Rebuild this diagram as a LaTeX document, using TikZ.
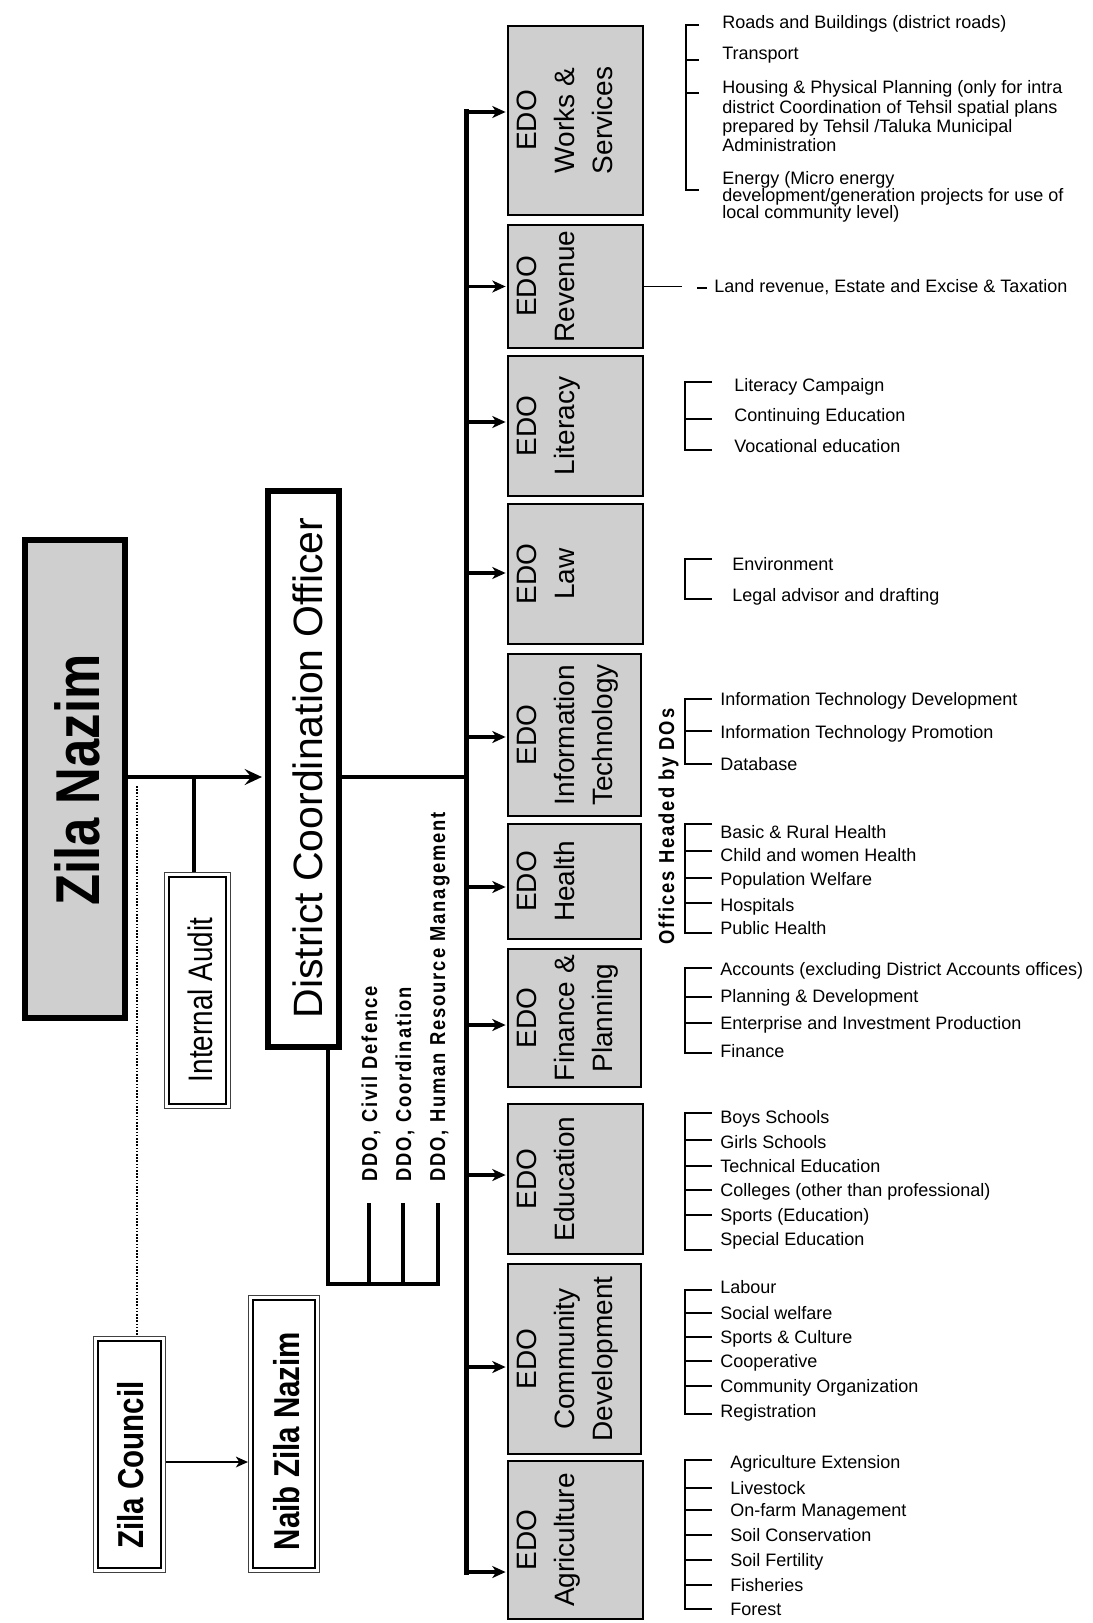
\documentclass[tikz,border=0pt]{standalone}
\usepackage{fontspec}
\setmainfont{Liberation Sans}
\newfontfamily\nfont{Liberation Sans}[FakeStretch=0.82]
\newfontfamily\ddofont{Liberation Sans}[FakeStretch=0.85,LetterSpace=9]
\usetikzlibrary{arrows.meta,fit}
\definecolor{boxgray}{RGB}{207,207,207}
\newcommand\tightls{\lineskiplimit=-20pt\relax}
\begin{document}
\begin{tikzpicture}[x=0.75pt,y=-0.75pt]
\tikzset{
  thickbox/.style={draw, line width=4.5pt, inner sep=0pt},
  edobox/.style={draw, line width=2pt, fill=boxgray, inner sep=0pt},
  dblbox/.style={draw=black!75, line width=0.8pt, inner sep=0pt},
  innerline/.style={line width=1.9pt},
  edotext/.style={rotate=90, anchor=north, align=center, inner sep=0pt, font=\fontsize{21pt}{28.5pt}\selectfont},
  item/.style={anchor=base west, inner sep=0pt, font=\fontsize{13.5pt}{16pt}\selectfont},
  itemblock/.style={anchor=north west, inner sep=0pt, align=left},
  ddotext/.style={rotate=90, anchor=base west, inner sep=0pt, font=\ddofont\bfseries\fontsize{16.2pt}{18pt}\selectfont},
  brk/.style={line width=2.1pt, line join=miter},
  bus/.style={line width=3.75pt, line cap=rect},
  branch/.style={line width=2.6pt, -{Stealth[length=10pt,width=9pt,inset=3pt]}, shorten >=0.8pt},
  mainarrow/.style={line width=3pt, -{Stealth[length=13pt,width=12pt,inset=5pt]}, shorten >=2.3pt},
  mainline/.style={line width=3pt},
  ialine/.style={line width=2.3pt},
  dots/.style={line width=1.8pt, dash pattern=on 1.2pt off 1.2pt},
  smallarrow/.style={line width=1.5pt, -{Stealth[length=9pt,width=8pt,inset=2.5pt]}},
  ddoline/.style={line width=3pt, line join=miter},
}
\fill[white] (0,0) rectangle (1092,1623);
\useasboundingbox (0,0) rectangle (1092,1623);

% ---------- left part ----------
\node[thickbox, fill=boxgray, fit={(25,540)(125,1018)}] (zn) {};
\node[rotate=90, inner sep=0pt, font=\nfont\bfseries\fontsize{46.5pt}{50pt}\selectfont] (znt) at (77,780) {Zila Nazim};

\node[thickbox, fill=white, fit={(268,491)(339,1047)}] (dco) {};
\node[rotate=90, inner sep=0pt, font=\fontsize{30.75pt}{34pt}\selectfont] (dcot) at (308,768) {District Coordination Officer};

\node[dblbox, fit={(164.5,872.5)(230.5,1108.5)}] (ia) {};
\draw[innerline] ([shift={(5,5)}]ia.north west) rectangle ([shift={(-5,-5)}]ia.south east);
\node[rotate=90, inner sep=0pt, font=\nfont\fontsize{25.5pt}{28pt}\selectfont] (iat) at (200,1000) {Internal Audit};

\node[dblbox, fit={(93.5,1336.5)(165.5,1572.5)}] (zc) {};
\draw[innerline] ([shift={(5,5)}]zc.north west) rectangle ([shift={(-5,-5)}]zc.south east);
\node[rotate=90, inner sep=0pt, font=\nfont\bfseries\fontsize{27pt}{30pt}\selectfont] (zct) at (131,1465) {Zila Council};

\node[dblbox, fit={(248.5,1295.5)(319.5,1572.5)}] (nzn) {};
\draw[innerline] ([shift={(5,5)}]nzn.north west) rectangle ([shift={(-5,-5)}]nzn.south east);
\node[rotate=90, inner sep=0pt, font=\nfont\bfseries\fontsize{27pt}{30pt}\selectfont] (nznt) at (287,1441) {Naib Zila Nazim};

\coordinate (j) at (194,777);
\coordinate (dt) at (137,786);
\coordinate (bj) at (466,777);
\draw[mainarrow] (zn.east |- j) -- (dco.west |- j);
\draw[ialine] (j) -- (j |- ia.north);
\draw[dots] (dt) -- (dt |- zc.north);
\draw[smallarrow] (zc.east |- 0,1462) -- (nzn.west |- 0,1462);
\draw[mainline] (dco.east |- j) -- (bj);

% DDO bracket
\draw[ddoline] (dco.south -| 328,0) |- (438,1284) -- (438,1203);
\draw[ddoline] (369,1203) -- (369,1284);
\draw[ddoline] (403,1203) -- (403,1284);
\node[ddotext] (d1) at (377,1182) {DDO, Civil Defence};
\node[ddotext] (d2) at (411,1182) {DDO, Coordination};
\node[ddotext] (d3) at (445,1182) {DDO, Human Resource Management};

% ---------- EDO boxes ----------
\node[edobox, fit={(508,26)(643,215)}] (ws) {};
\node[edobox, fit={(508,225)(643,348)}] (rev) {};
\node[edobox, fit={(508,356)(643,496)}] (lit) {};
\node[edobox, fit={(508,504)(643,644)}] (law) {};
\node[edobox, fit={(508,654)(641,816)}] (it) {};
\node[edobox, fit={(508,824)(641,939)}] (hl) {};
\node[edobox, fit={(508,949)(641,1087)}] (fin) {};
\node[edobox, fit={(508,1104)(643,1254)}] (edu) {};
\node[edobox, fit={(508,1264)(641,1454)}] (cd) {};
\node[edobox, fit={(508,1461)(643,1619)}] (agr) {};

\node[edotext] (wst) at (517,120.5) {EDO\\Works \&\\Services};
\node[edotext] (revt) at (517,286.5) {EDO\\Revenue};
\node[edotext] (litt) at (517,426) {EDO\\Literacy};
\node[edotext] (lawt) at (517,574) {EDO\\Law};
\node[edotext] (itt) at (517,735) {EDO\\Information\\Technology};
\node[edotext] (hlt) at (517,881.5) {EDO\\Health};
\node[edotext] (fint) at (517,1018) {EDO\\Finance \&\\Planning};
\node[edotext] (edut) at (517,1179) {EDO\\Education};
\node[edotext] (cdt) at (517,1359) {EDO\\Community\\Development};
\node[edotext] (agrt) at (517,1540) {EDO\\Agriculture};

% ---------- bus ----------
\coordinate (bt) at (466,112);
\coordinate (bb) at (466,1572);
\draw[bus] (bt) -- (bb);
\coordinate (b2) at (466,286.5);
\coordinate (b3) at (466,422);
\coordinate (b4) at (466,573);
\coordinate (b5) at (466,737);
\coordinate (b6) at (466,887);
\coordinate (b7) at (466,1025);
\coordinate (b8) at (466,1175);
\coordinate (b9) at (466,1367);
\draw[branch] (bt) -- (bt -| ws.west);
\draw[branch] (b2) -- (b2 -| rev.west);
\draw[branch] (b3) -- (b3 -| lit.west);
\draw[branch] (b4) -- (b4 -| law.west);
\draw[branch] (b5) -- (b5 -| it.west);
\draw[branch] (b6) -- (b6 -| hl.west);
\draw[branch] (b7) -- (b7 -| fin.west);
\draw[branch] (b8) -- (b8 -| edu.west);
\draw[branch] (b9) -- (b9 -| cd.west);
\draw[branch] (bb) -- (bb -| agr.west);

% ---------- lists ----------
% Works & Services
\draw[brk] (699,25) -| (686,190) -- (699,190);
\draw[brk] (686,60) -- (699,60);
\draw[brk] (686,93) -- (699,93);
\node[item] (w1) at (722,28.5) {Roads and Buildings (district roads)};
\node[item] (w2) at (722,59.5) {Transport};
\node[itemblock, font=\fontsize{13.5pt}{14.5pt}\selectfont\tightls] (w3) at (722,80.5) {Housing \& Physical Planning (only for intra\\district Coordination of Tehsil spatial plans\\prepared by Tehsil /Taluka Municipal\\Administration};
\node[itemblock, font=\fontsize{13.5pt}{12.75pt}\selectfont\tightls] (w4) at (722,171.4) {Energy (Micro energy\\development/generation projects for use of\\local community level)};

% Revenue
\coordinate (rv) at (682,286.5);
\draw[line width=0.8pt] (rev.east) -- (rv);
\draw[line width=1.6pt] (697,288) -- (707,288);
\node[item] (r1) at (714,292.5) {Land revenue, Estate and Excise \& Taxation};

% Literacy
\draw[brk] (712,382) -| (685,450) -- (712,450);
\draw[brk] (685,419) -- (712,419);
\node[item] (l1) at (734,391.5) {Literacy Campaign};
\node[item] (l2) at (734,421.5) {Continuing Education};
\node[item] (l3) at (734,452.5) {Vocational education};

% Law
\draw[brk] (712,559) -| (685,599) -- (712,599);
\node[item] (lw1) at (732,570.5) {Environment};
\node[item] (lw2) at (732,601.5) {Legal advisor and drafting};

% IT
\draw[brk] (712,699) -| (685,764) -- (712,764);
\draw[brk] (685,731) -- (712,731);
\node[item] (i1) at (720,705.5) {Information Technology Development};
\node[item] (i2) at (720,738.5) {Information Technology Promotion};
\node[item] (i3) at (720,770.5) {Database};

\node[ddotext] (ohd) at (674,945) {Offices Headed by DOs};

% Health
\draw[brk] (712,824) -| (685,933) -- (712,933);
\foreach \yy in {851,878,903} \draw[brk] (685,\yy) -- (712,\yy);
\node[item] (h1) at (720,838.5) {Basic \& Rural Health};
\node[item] (h2) at (720,861.5) {Child and women Health};
\node[item] (h3) at (720,885.5) {Population Welfare};
\node[item] (h4) at (720,911.5) {Hospitals};
\node[item] (h5) at (720,934.5) {Public Health};

% Finance
\draw[brk] (712,968) -| (685,1053) -- (712,1053);
\foreach \yy in {997,1023} \draw[brk] (685,\yy) -- (712,\yy);
\node[item] (f1) at (720,975.5) {Accounts (excluding District Accounts offices)};
\node[item] (f2) at (720,1002.5) {Planning \& Development};
\node[item] (f3) at (720,1029.5) {Enterprise and Investment Production};
\node[item] (f4) at (720,1057.5) {Finance};

% Education
\draw[brk] (712,1113) -| (685,1250) -- (712,1250);
\foreach \yy in {1140,1166,1190,1215} \draw[brk] (685,\yy) -- (712,\yy);
\node[item] (e1) at (720,1123.5) {Boys Schools};
\node[item] (e2) at (720,1148.5) {Girls Schools};
\node[item] (e3) at (720,1172.5) {Technical Education};
\node[item] (e4) at (720,1196.5) {Colleges (other than professional)};
\node[item] (e5) at (720,1221.5) {Sports (Education)};
\node[item] (e6) at (720,1245.5) {Special Education};

% Community development
\draw[brk] (712,1290) -| (685,1414) -- (712,1414);
\foreach \yy in {1313,1337,1361,1386} \draw[brk] (685,\yy) -- (712,\yy);
\node[item] (c1) at (720,1293.5) {Labour};
\node[item] (c2) at (720,1319.5) {Social welfare};
\node[item] (c3) at (720,1343.5) {Sports \& Culture};
\node[item] (c4) at (720,1367.5) {Cooperative};
\node[item] (c5) at (720,1392.5) {Community Organization};
\node[item] (c6) at (720,1417.5) {Registration};

% Agriculture
\draw[brk] (712,1460) -| (685,1609) -- (712,1609);
\foreach \yy in {1488,1510,1535,1560,1585} \draw[brk] (685,\yy) -- (712,\yy);
\node[item] (a1) at (730,1468.5) {Agriculture Extension};
\node[item] (a2) at (730,1494.5) {Livestock};
\node[item] (a3) at (730,1516.5) {On-farm Management};
\node[item] (a4) at (730,1541.5) {Soil Conservation};
\node[item] (a5) at (730,1566.5) {Soil Fertility};
\node[item] (a6) at (730,1591.5) {Fisheries};
\node[item] (a7) at (730,1615.5) {Forest};
\end{tikzpicture}
\end{document}
